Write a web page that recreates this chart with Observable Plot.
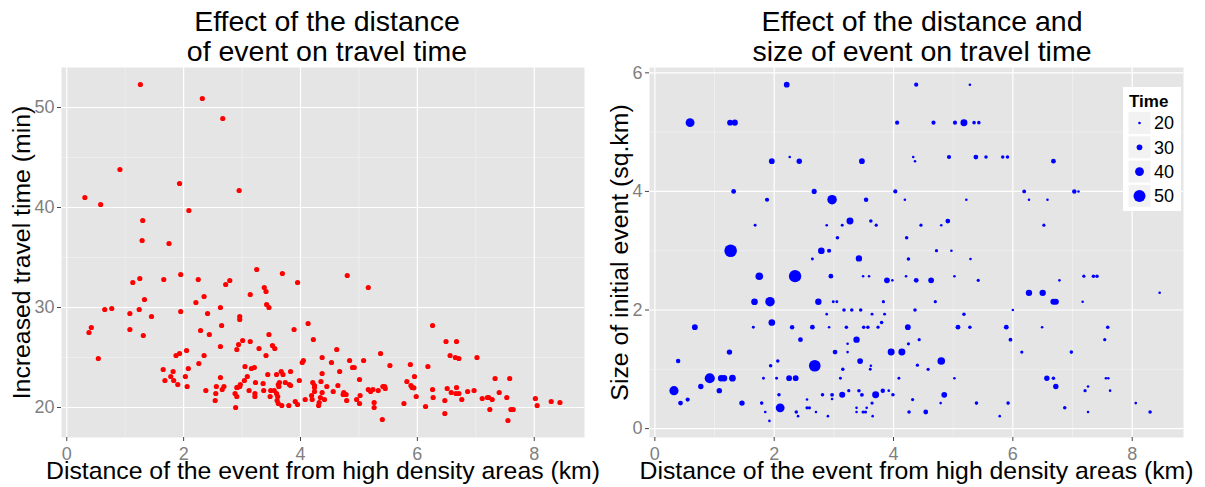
<!DOCTYPE html>
<html><head><meta charset="utf-8">
<script src="https://cdn.jsdelivr.net/npm/d3@7"></script>
<script src="https://cdn.jsdelivr.net/npm/@observablehq/plot@0.6"></script>
<style>
body{margin:0;background:#fff;font-family:"Liberation Sans",Arial,Helvetica,sans-serif;}
#wrap{position:relative;width:1205px;height:487px;overflow:hidden;background:#fff;}
.title{position:absolute;width:600px;text-align:center;font-size:28.5px;line-height:30px;color:#000;}
.panel{position:absolute;top:60px;}
#legend{position:absolute;left:1123px;top:87px;width:58px;height:124px;background:#fff;}
</style></head><body>
<div id="wrap">
 <div class="title" style="left:27px;top:6px">Effect of the distance<br>of event on travel time</div>
 <div class="title" style="left:622px;top:6px">Effect of the distance and<br>size of event on travel time</div>
 <div class="panel" id="p1" style="left:0"></div>
 <div class="panel" id="p2" style="left:600px"></div>
 <div id="legend"></div>
</div>
<script>
// ---- Left panel: distance (km) vs increased travel time (min)
const leftDist = [1.26,2.32,2.67,0.91,1.93,2.95,0.31,0.58,2.09,1.30,1.29,1.75,3.25,3.69,1.95,1.25,1.66,2.25,2.79,1.13,2.72,3.95,3.38,3.41,3.14,2.35,1.33,2.21,3.42,3.46,2.63,0.77,0.65,1.24,1.95,1.08,2.41,1.45,2.96,2.96,2.65,0.42,3.89,1.08,2.29,0.38,3.46,2.44,1.31,3.01,3.14,2.94,3.52,2.63,3.29,3.56,2.91,2.05,1.93,1.87,2.35,3.41,0.54,2.26,3.05,3.21,2.08,3.16,1.65,1.82,3.67,3.83,3.44,3.59,3.70,1.78,2.03,2.63,3.09,3.04,3.98,1.68,1.83,3.23,3.36,3.64,3.74,1.90,2.97,3.81,3.62,2.06,2.56,2.69,2.96,3.63,3.83,2.91,2.92,2.66,2.38,3.12,3.55,3.37,3.49,2.55,2.88,3.22,3.59,3.22,3.48,3.61,2.91,2.54,3.60,3.62,3.91,3.68,3.95,2.89,3.80,
4.80,5.16,4.13,6.26,4.22,6.49,6.67,4.62,5.37,6.56,6.65,6.71,7.02,4.37,4.05,4.03,4.84,5.08,4.53,5.53,4.89,4.92,5.88,6.18,4.67,4.37,5.95,7.33,7.58,5.01,5.82,4.21,4.35,4.24,4.45,4.64,5.91,5.89,5.94,5.41,5.44,5.45,5.16,5.20,5.24,5.33,6.26,6.51,6.67,6.97,6.86,7.40,4.56,4.24,4.24,4.37,4.74,4.73,4.19,4.78,6.58,6.66,6.71,5.02,4.08,4.20,4.34,4.41,4.32,4.31,4.96,4.79,5.01,5.26,5.26,5.77,5.98,6.27,6.47,6.76,7.11,7.20,7.22,7.28,7.53,8.02,8.29,8.44,6.14,7.24,7.60,7.64,8.05,6.47,5.40,7.55];
const leftTime = [52.3,50.9,48.9,43.8,42.4,41.7,41.0,40.3,39.7,38.7,36.7,36.4,33.8,33.4,33.3,32.9,32.8,32.8,32.7,32.5,32.3,32.5,32.0,31.6,31.3,31.1,30.8,30.5,30.3,30.0,30.0,29.9,29.8,29.8,29.6,29.4,29.4,29.1,29.1,28.8,28.2,28.0,27.8,27.8,27.7,27.5,27.3,27.3,27.2,26.7,26.6,26.3,26.2,26.1,25.9,25.9,25.8,25.7,25.4,25.2,25.2,25.2,24.9,24.4,24.1,24.0,23.9,23.9,23.8,23.6,23.6,23.6,23.3,23.3,23.3,23.1,23.1,23.0,23.1,22.7,22.7,22.7,22.7,22.5,22.4,22.5,22.5,22.3,22.3,22.3,22.3,22.1,22.1,22.1,22.1,22.1,22.2,22.0,22.0,21.8,21.7,21.7,21.7,21.7,21.7,21.4,21.4,21.4,21.4,21.1,21.1,21.1,21.1,20.7,20.7,20.4,20.6,20.2,20.3,20.0,20.2,
33.2,32.0,28.4,28.2,26.8,26.6,26.6,25.8,25.4,25.2,25.0,24.9,25.0,25.0,24.7,24.5,24.7,24.7,24.5,24.2,24.0,24.0,24.3,24.1,23.6,23.4,23.1,22.9,22.9,22.8,22.6,22.5,22.6,22.2,22.1,22.2,22.0,22.2,21.97,22.1,22.1,21.9,21.8,21.6,21.8,21.7,21.8,21.9,22.0,21.7,21.6,21.5,21.6,22.0,21.6,21.5,21.5,21.3,21.2,21.3,21.5,21.4,21.4,21.2,20.8,20.8,21.0,20.8,20.5,20.2,20.8,20.7,20.4,20.5,20.0,20.4,21.1,21.0,20.7,20.8,20.9,21.0,21.0,20.8,21.0,20.9,20.6,20.5,20.1,19.8,19.8,19.8,20.2,19.4,18.8,18.7];

// ---- Right panel: distance (km) vs size of initial event (sq.km), sized by time (min)
const rightDist = [2.21,0.59,1.26,1.34,2.26,1.96,2.42,3.47,1.32,2.67,4.03,2.97,1.88,3.54,1.68,2.88,3.14,3.27,3.62,3.71,3.06,1.27,2.79,2.92,2.64,3.42,1.75,2.35,2.95,3.49,3.59,3.89,3.98,1.67,1.93,2.74,2.99,3.05,3.83,2.88,3.17,3.30,3.45,3.64,3.85,1.96,3.80,0.67,1.65,2.30,2.64,2.92,3.21,3.50,3.57,3.74,2.44,3.38,3.23,1.25,3.02,3.23,3.96,4.14,0.39,2.06,3.44,2.68,1.94,3.15,3.61,3.62,0.92,1.11,1.16,1.30,1.82,2.04,2.25,2.36,3.11,4.09,0.32,0.77,1.08,0.43,0.55,1.46,2.08,2.81,2.97,2.97,3.14,3.25,3.42,3.47,3.70,3.82,3.92,3.99,1.79,1.85,1.92,2.10,2.37,2.40,2.55,2.55,2.59,2.70,2.90,3.38,3.38,3.49,3.53,3.55,3.64,3.65,
4.38,5.28,4.06,4.67,5.03,5.18,5.35,5.43,4.33,4.36,4.93,5.38,5.55,5.83,5.91,6.68,4.19,5.22,6.19,6.27,6.58,7.03,7.10,4.46,4.80,4.91,6.52,4.22,4.72,4.97,4.25,5.29,
4.21,4.38,4.63,5.02,5.42,4.70,4.36,5.18,6.00,6.27,6.50,6.68,6.72,6.78,7.19,7.35,7.41,7.17,8.46,4.24,5.08,5.28,5.89,6.49,7.59,4.25,4.43,5.96,7.54,6.15,6.98,4.80,4.40,4.58,5.02,6.57,6.68,6.72,7.56,7.60,7.26,7.21,7.63,4.32,4.85,4.79,5.39,5.92,4.26,4.54,5.78,6.87,7.26,8.06,8.30];
const rightSize = [5.80,5.16,5.16,5.16,4.58,4.51,4.51,4.51,4.00,4.00,4.00,3.86,3.86,3.86,3.43,3.43,3.43,3.50,3.50,3.43,3.22,3.00,3.00,3.00,2.86,2.87,2.57,2.57,2.57,2.57,2.57,2.50,2.50,2.14,2.14,2.14,2.14,2.14,2.14,1.93,2.00,2.00,2.00,1.93,1.93,1.79,1.79,1.71,1.71,1.71,1.71,1.71,1.71,1.71,1.71,1.71,1.50,1.50,1.43,1.29,1.29,1.29,1.29,1.29,1.14,1.14,1.14,1.06,1.06,1.00,1.00,1.06,0.85,0.85,0.85,0.85,0.85,0.85,0.85,0.85,0.85,0.85,0.64,0.71,0.64,0.43,0.49,0.43,0.57,0.57,0.57,0.50,0.57,0.64,0.64,0.57,0.57,0.64,0.64,0.57,0.43,0.28,0.13,0.35,0.28,0.21,0.49,0.35,0.35,0.28,0.21,0.35,0.28,0.28,0.28,0.35,0.43,0.21,
5.80,5.80,5.16,5.16,5.16,5.16,5.16,5.16,4.58,4.51,4.58,4.58,4.58,4.58,4.58,4.51,3.86,3.86,4.00,3.86,3.86,4.00,4.00,3.43,3.43,3.50,3.43,3.22,3.00,3.00,2.86,2.86,
2.57,2.50,2.50,2.57,2.50,2.14,2.00,1.93,2.00,2.29,2.29,2.14,2.14,2.50,2.57,2.57,2.57,2.14,2.29,1.71,1.71,1.71,1.71,1.71,1.71,1.43,1.50,1.50,1.50,1.29,1.29,1.14,1.07,1.00,0.85,0.85,0.85,0.71,0.85,0.85,0.71,0.64,0.64,0.49,0.57,0.43,0.43,0.43,0.28,0.28,0.21,0.35,0.28,0.43,0.28];
const rightTime = [30,40,30,31,20,30,29,30,27,28,25,42,25,26,21,20,21,34,23,22,23,52,33,25,21,32,36,51,27,20,20,30,20,33,42,32,21,21,22,20,23,23,23,21,21,33,23,30,21,26,27,20,23,23,23,22,27,32,20,29,27,20,34,34,26,23,30,49,23,23,21,20,44,32,32,33,21,21,30,30,21,21,41,29,29,27,25,29,23,23,24,20,31,22,23,24,34,26,20,23,23,20,20,40,23,20,20,22,22,20,20,20,20,22,22,20,22,20,
25,20,25,25,25,34,23,23,20,20,25,27,23,23,23,27,20,20,24,20,20,26,20,22,20,27,22,23,22,20,23,20,
20,27,30,20,22,22,23,23,20,32,32,31,31,20,22,23,23,20,20,30,27,23,27,20,23,22,22,24,22,22,23,36,22,22,20,29,23,29,20,20,20,22,20,22,30,20,23,23,23,27,20,23,20,20,23];

const xTicks = [0, 2, 4, 6, 8];
const xMinor = [1, 3, 5, 7];
const leftYTicks = [20, 30, 40, 50];
const leftYMinor = [25, 35, 45];
const rightYTicks = [0, 2, 4, 6];
const rightYMinor = [1, 3, 5];
const legendTimes = [20, 30, 40, 50];
const xTitle = "Distance of the event from high density areas (km)";
const leftYTitle = "Increased travel time (min)";
const rightYTitle = "Size of initial event (sq.km)";

const leftData = leftDist.map((d, i) => ({dist: d, time: leftTime[i]}));
const rightData = rightDist.map((d, i) => ({dist: d, size: rightSize[i], time: rightTime[i]}));

const FONT = "Liberation Sans, Arial, Helvetica, sans-serif";
const TICKCOL = "#7F7F7F";
const rDomain = [20, 50], rRange = [1.3, 6];

function panel({yDomain, yTicks, yMinor, yTitle, width, ml, mr, dot, r, titleDx}) {
  return Plot.plot({
    width, height: 427,
    marginLeft: ml, marginRight: mr, marginTop: 7, marginBottom: 50,
    style: {fontFamily: FONT, background: "transparent", overflow: "visible"},
    x: {domain: [-0.09, 8.86], label: null},
    y: {domain: yDomain, label: null},
    r,
    marks: [
      Plot.frame({fill: "#E5E5E5", stroke: "none"}),
      Plot.ruleX(xMinor, {stroke: "#F2F2F2", strokeWidth: 0.7}),
      Plot.ruleY(yMinor, {stroke: "#F2F2F2", strokeWidth: 0.7}),
      Plot.ruleX(xTicks, {stroke: "#FFFFFF", strokeWidth: 1.2}),
      Plot.ruleY(yTicks, {stroke: "#FFFFFF", strokeWidth: 1.2}),
      Plot.axisX({ticks: xTicks, tickSize: 4, tickPadding: 6, fontSize: 18, fill: TICKCOL, stroke: "#444", label: null, tickFormat: d => String(d)}),
      Plot.axisY({ticks: yTicks, tickSize: 4, tickPadding: 3, fontSize: 18, fill: TICKCOL, stroke: "#444", label: null, tickFormat: d => String(d)}),
      dot,
      Plot.text([xTitle], {text: d => d, frameAnchor: "bottom", lineAnchor: "middle", textAnchor: "middle", dy: 34, fontSize: 24.8, fill: "#000"}),
      Plot.text([yTitle], {text: d => d, frameAnchor: "left", lineAnchor: "middle", textAnchor: "middle", rotate: -90, dx: titleDx, fontSize: 24.8, fill: "#000"})
    ]
  });
}

const p1 = panel({
  yDomain: [17, 54], yTicks: leftYTicks, yMinor: leftYMinor, yTitle: leftYTitle,
  width: 600, ml: 61, mr: 16, titleDx: -39,
  dot: Plot.dot(leftData, {x: "dist", y: "time", r: 2.6, fill: "#FF0000", stroke: "none"})
});
document.getElementById("p1").append(p1);

const rOpts = {type: "linear", domain: rDomain, range: rRange};
const p2 = panel({
  yDomain: [-0.15, 6.09], yTicks: rightYTicks, yMinor: rightYMinor, yTitle: rightYTitle,
  width: 605, ml: 49, mr: 22, titleDx: -29, r: rOpts,
  dot: Plot.dot(rightData, {x: "dist", y: "size", r: "time", fill: "#0000FF", stroke: "none"})
});
document.getElementById("p2").append(p2);

// ---- Legend (size legend for Time), radii from the same r scale
const rScale = d3.scaleLinear(rDomain, rRange);
const lg = d3.select("#legend").append("svg").attr("width", 58).attr("height", 124)
  .style("font-family", FONT);
lg.append("text").attr("x", 6).attr("y", 20).attr("font-size", 17).attr("font-weight", "bold").text("Time");
legendTimes.forEach((t, i) => {
  const cy = 36 + i * 24.3;
  lg.append("rect").attr("x", 5).attr("y", cy - 11.5).attr("width", 23).attr("height", 23)
    .attr("fill", "#F2F2F2").attr("stroke", "#fff").attr("stroke-width", 1);
  lg.append("circle").attr("cx", 16.5).attr("cy", cy).attr("r", rScale(t)).attr("fill", "#0000FF");
  lg.append("text").attr("x", 31).attr("y", cy).attr("dy", "0.36em").attr("font-size", 18).text(t);
});
</script>
</body></html>
